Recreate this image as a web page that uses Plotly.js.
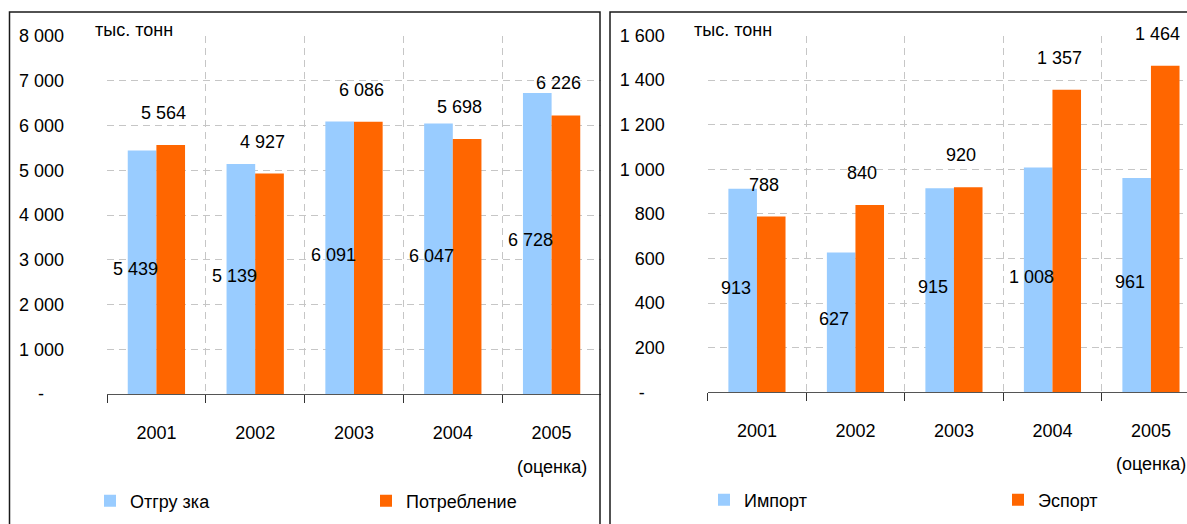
<!DOCTYPE html>
<html>
<head>
<meta charset="utf-8">
<script src="https://cdn.plot.ly/plotly-3.0.1.min.js"></script>
<style>
  html, body { margin: 0; padding: 0; background: #ffffff; overflow: hidden; }
  #chart { width: 1187px; height: 524px; }
</style>
</head>
<body>
<div id="chart"></div>
<script>
// ---------- data ----------
const years = ['2001', '2002', '2003', '2004', '2005'];
const shipments = [5439, 5139, 6091, 6047, 6728];     // Отгрузка
const consumption = [5564, 4927, 6086, 5698, 6226];   // Потребление
const imports = [913, 627, 915, 1008, 961];           // Импорт
const exportsData = [788, 840, 920, 1357, 1464];      // Эспорт
const leftTicks = [0, 1000, 2000, 3000, 4000, 5000, 6000, 7000, 8000];
const rightTicks = [0, 200, 400, 600, 800, 1000, 1200, 1400, 1600];
const unitLabel = 'тыс. тонн';
const estimateLabel = '(оценка)';
const leftNames = ['Отгру зка', 'Потребление'];
const rightNames = ['Импорт', 'Эспорт'];

// ---------- helpers ----------
const W = 1187, H = 524;
const px = v => v / W;
const py = v => (H - v) / H;
const FONT = '"Liberation Sans", Arial, sans-serif';
const BLUE = '#99CCFF', ORANGE = '#FF6600';
const fmt = v => String(v).replace(/\B(?=(\d{3})+(?!\d))/g, ' ');
const tickText = arr => arr.map(v => v === 0 ? '-\u00a0\u00a0\u00a0\u00a0' : fmt(v));

const traces = [
  {type: 'bar', x: years, y: shipments, name: leftNames[0], marker: {color: BLUE},
   xaxis: 'x', yaxis: 'y', legend: 'legend', hoverinfo: 'skip'},
  {type: 'bar', x: years, y: consumption, name: leftNames[1], marker: {color: ORANGE},
   xaxis: 'x', yaxis: 'y', legend: 'legend2', hoverinfo: 'skip'},
  {type: 'bar', x: years, y: imports, name: rightNames[0], marker: {color: BLUE},
   xaxis: 'x2', yaxis: 'y2', legend: 'legend3', hoverinfo: 'skip'},
  {type: 'bar', x: years, y: exportsData, name: rightNames[1], marker: {color: ORANGE},
   xaxis: 'x2', yaxis: 'y2', legend: 'legend4', hoverinfo: 'skip'}
];

const gridStyle = {showgrid: true, gridcolor: '#c6c6c6', griddash: '7px,5px', gridwidth: 1};

function xAxis(domain, range, anchor) {
  return Object.assign({
    type: 'category', domain: domain, range: range, anchor: anchor,
    tickson: 'boundaries', ticks: 'outside', ticklen: 8, tickcolor: '#333', tickwidth: 1,
    showline: true, linecolor: '#555', linewidth: 1,
    tickfont: {family: FONT, size: 18, color: '#000'}, ticklabelstandoff: 22,
    fixedrange: true
  }, gridStyle);
}
function yAxis(domain, range, ticks, anchor) {
  return Object.assign({
    domain: domain, range: range, anchor: anchor,
    tickmode: 'array', tickvals: ticks, ticktext: tickText(ticks),
    ticks: '', showline: false, zeroline: false,
    tickfont: {family: FONT, size: 18, color: '#000'}, ticklabelstandoff: 42,
    fixedrange: true
  }, gridStyle);
}

const annotations = [];
function addLabels(xref, yref, inside, above) {
  years.forEach((yr, i) => {
    annotations.push({xref: xref, yref: yref, x: i, y: inside[i] / 2, text: fmt(inside[i]),
      showarrow: false, xanchor: 'center', yanchor: 'middle', xshift: -21, yshift: 3,
      font: {family: FONT, size: 18, color: '#000'}});
    annotations.push({xref: xref, yref: yref, x: i, y: above[i], text: fmt(above[i]),
      showarrow: false, xanchor: 'center', yanchor: 'middle', xshift: 7, yshift: 32,
      font: {family: FONT, size: 18, color: '#000'}});
  });
}
addLabels('x', 'y', shipments, consumption);
addLabels('x2', 'y2', imports, exportsData);

[93, 692].forEach(xp => {
  annotations.push({xref: 'paper', yref: 'paper', x: px(xp), y: py(30), text: unitLabel,
    showarrow: false, xanchor: 'left', yanchor: 'middle',
    font: {family: FONT, size: 18, color: '#000'}});
});
const lastIdx = years.length - 1;
annotations.push({xref: 'x', yref: 'paper', x: lastIdx, y: py(467), text: estimateLabel,
  showarrow: false, xanchor: 'center', yanchor: 'middle', font: {family: FONT, size: 18, color: '#000'}});
annotations.push({xref: 'x2', yref: 'paper', x: lastIdx, y: py(464), text: estimateLabel,
  showarrow: false, xanchor: 'center', yanchor: 'middle', font: {family: FONT, size: 18, color: '#000'}});

function legendAt(xPix, yPix) {
  return {x: px(xPix), y: py(yPix), xanchor: 'left', yanchor: 'middle', orientation: 'v',
    bgcolor: 'rgba(0,0,0,0)', borderwidth: 0, font: {family: FONT, size: 18, color: '#000'}};
}

const layout = {
  width: W, height: H,
  margin: {l: 0, r: 0, t: 0, b: 0},
  paper_bgcolor: '#ffffff', plot_bgcolor: '#ffffff',
  barmode: 'group', bargap: 0.42, bargroupgap: 0,
  showlegend: true,
  font: {family: FONT, size: 18, color: '#000'},
  xaxis: xAxis([px(107), px(601)], [-0.5, 4.5], 'y'),
  yaxis: yAxis([py(394), py(36)], [0, 8000], leftTicks, 'x'),
  xaxis2: xAxis([px(707.7), 1], [-0.5, -0.5 + (W - 707.7) / 98.5], 'y2'),
  yaxis2: yAxis([py(392.3), py(35.5)], [0, 1600], rightTicks, 'x2'),
  legend: legendAt(90, 501),
  legend2: legendAt(366, 501),
  legend3: legendAt(704, 500),
  legend4: legendAt(998, 500),
  annotations: annotations,
  shapes: [
    {type: 'rect', xref: 'paper', yref: 'paper', x0: px(9.5), x1: px(600), y0: -0.2, y1: py(12),
     line: {color: '#1a1a1a', width: 1.5}, fillcolor: 'rgba(0,0,0,0)'},
    {type: 'rect', xref: 'paper', yref: 'paper', x0: px(610), x1: 1.2, y0: -0.2, y1: py(12),
     line: {color: '#1a1a1a', width: 1.5}, fillcolor: 'rgba(0,0,0,0)'}
  ]
};

Plotly.newPlot('chart', traces, layout, {displayModeBar: false, staticPlot: true});
</script>
</body>
</html>
